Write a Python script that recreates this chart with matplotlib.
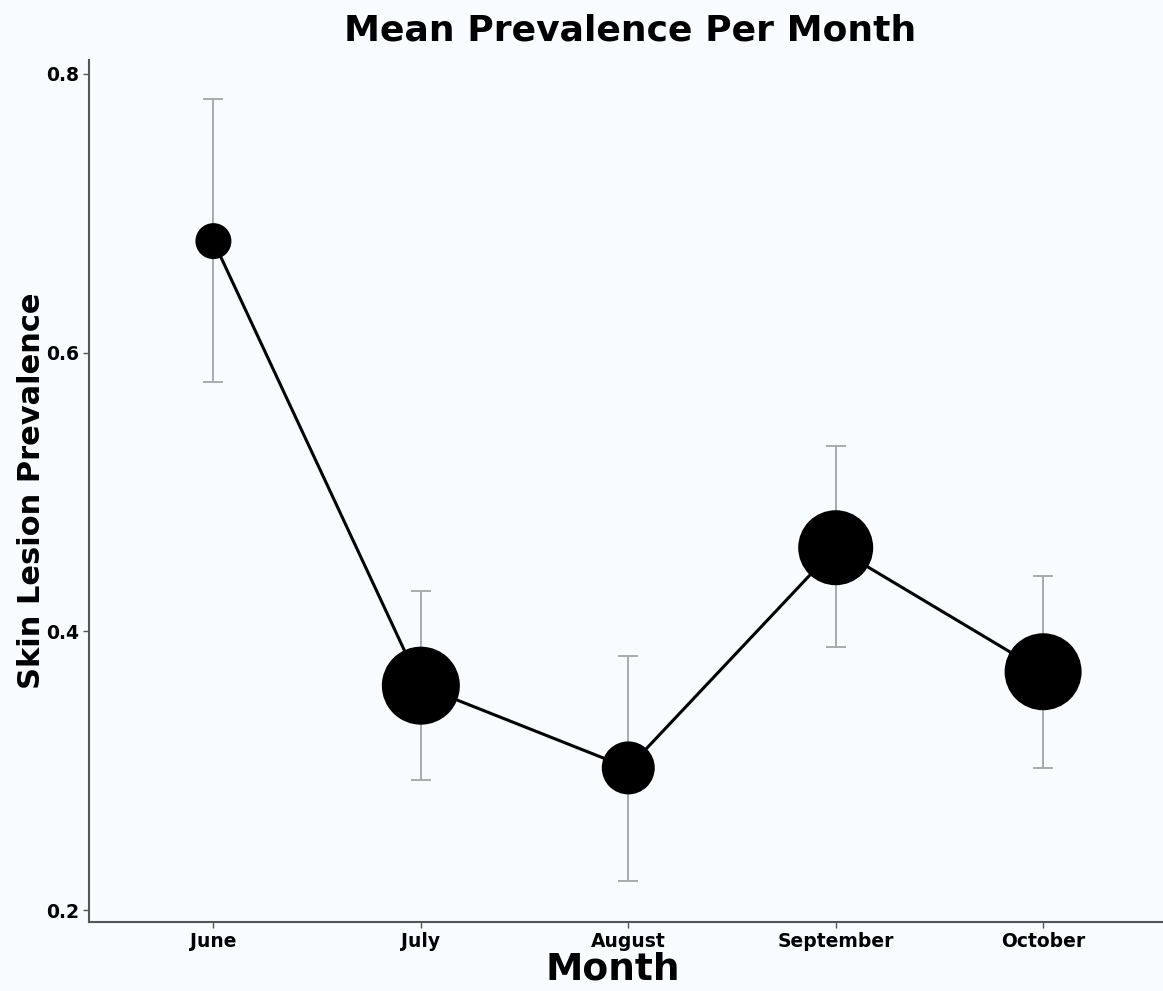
import matplotlib
matplotlib.use("Agg")
import matplotlib.pyplot as plt
import numpy as np

months = ["June", "July", "August", "September", "October"]
mean_prev = [0.680, 0.361, 0.302, 0.460, 0.371]
upper = [0.782, 0.429, 0.382, 0.533, 0.440]
lower = [0.579, 0.293, 0.221, 0.389, 0.302]
marker_area = [671, 3154, 1456, 2916, 3073]
y_ticks = [0.2, 0.4, 0.6, 0.8]

plt.rcParams['font.family'] = ['DejaVu Sans']
bg = '#F8FCFF'

fig = plt.figure(figsize=(11.63, 9.91), dpi=100, facecolor=bg)
ax = fig.add_axes([0.0765, 0.0696, 0.9235, 0.8699], facecolor=bg)

x = np.arange(1, len(months) + 1)
mean = np.array(mean_prev)
yerr = np.vstack([mean - np.array(lower), np.array(upper) - mean])

ax.errorbar(x, mean, yerr=yerr, fmt='none', ecolor='#AAAAAA', elinewidth=1.4,
            capsize=7.2, capthick=1.4, zorder=1)
ax.plot(x, mean, color='black', lw=2.2, zorder=2)
ax.scatter(x, mean, s=marker_area, color='black', zorder=3, linewidths=0)

ax.set_xlim(0.4, 5.578)
ax.set_ylim(0.1914, 0.810)
ax.set_xticks(x)
ax.set_xticklabels(months, fontsize=13.5, fontweight='bold')
ax.set_yticks(y_ticks)
ax.set_yticklabels([f"{v:.1f}" for v in y_ticks], fontsize=13.5, fontweight='bold')
ax.tick_params(axis='both', length=4, width=1, color='#555555', pad=3)

for s in ['top', 'right']:
    ax.spines[s].set_visible(False)
for s in ['left', 'bottom']:
    ax.spines[s].set_color('#555555')
    ax.spines[s].set_linewidth(1.5)

ax.set_xlabel("Month", fontsize=27, fontweight='bold')
ax.xaxis.set_label_coords(0.488, -0.0545)
ax.xaxis.label.set_va('center')
ax.set_ylabel("Skin Lesion Prevalence", fontsize=22, fontweight='bold', labelpad=0)
fig.text(0.5417, 0.969, "Mean Prevalence Per Month", ha='center', va='center',
         fontsize=26, fontweight='bold')

fig.savefig("out.png", dpi=100, facecolor=bg)
